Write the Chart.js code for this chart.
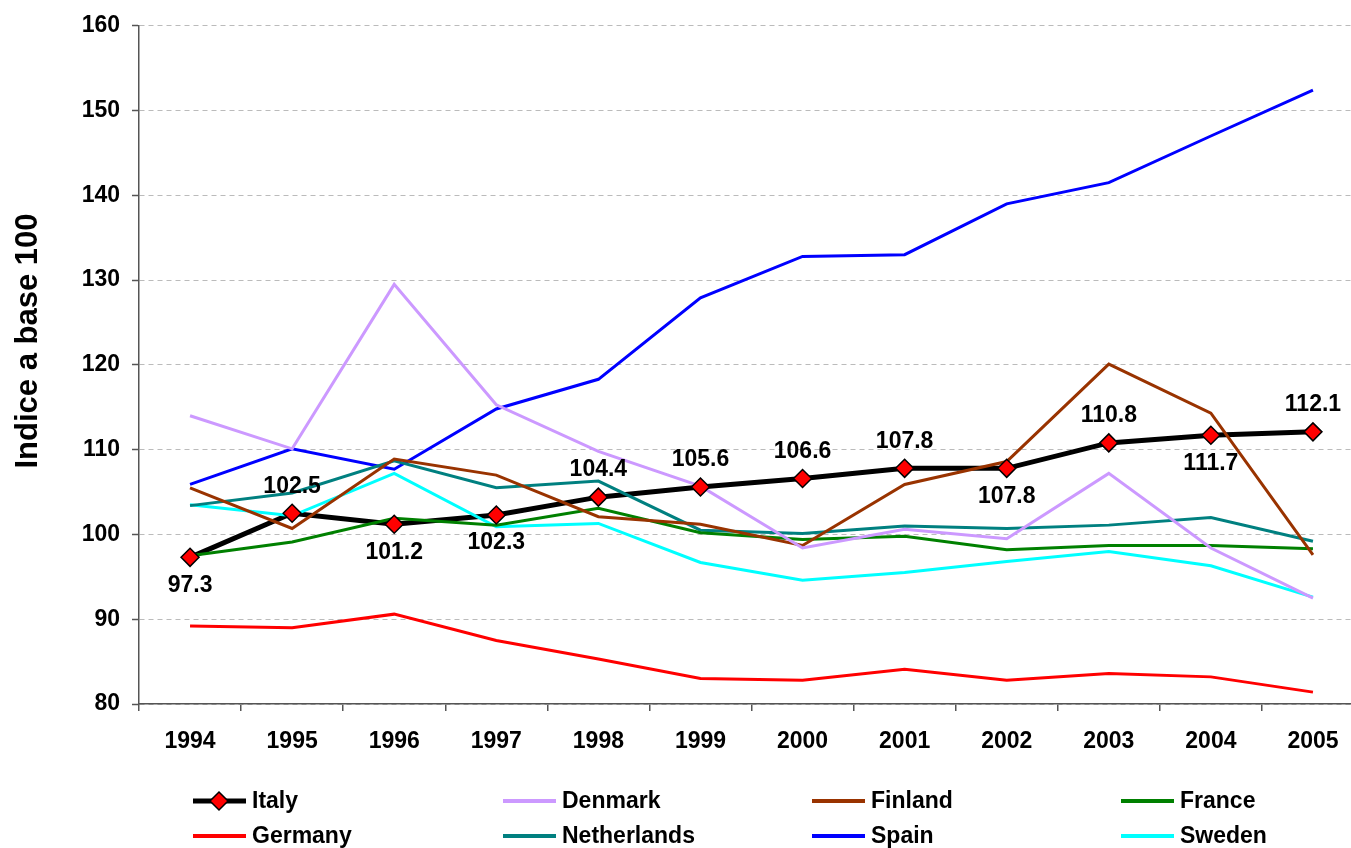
<!DOCTYPE html>
<html><head><meta charset="utf-8">
<script src="https://cdn.jsdelivr.net/npm/chart.js@4.4.1/dist/chart.umd.min.js"></script>
<style>
html,body{margin:0;padding:0;background:#fff;overflow:hidden;width:1351px;height:848px}
#wrap{position:absolute;left:0;top:0;width:1380px;height:848px}
</style>
</head><body>
<div id="wrap"><canvas id="c" width="1380" height="848"></canvas></div>
<script>
const years = ['1994','1995','1996','1997','1998','1999','2000','2001','2002','2003','2004','2005'];
const italy = [97.3,102.5,101.2,102.3,104.4,105.6,106.6,107.8,107.8,110.8,111.7,112.1];
const denmark = [114.0,110.1,129.5,115.3,109.8,105.7,98.4,100.6,99.5,107.2,98.4,92.5];
const finland = [105.5,100.7,108.9,107.0,102.1,101.2,98.7,105.9,108.6,120.1,114.3,97.6];
const france = [97.5,99.1,101.9,101.1,103.1,100.2,99.4,99.8,98.2,98.7,98.7,98.3];
const germany = [89.2,89.0,90.6,87.5,85.3,83.0,82.8,84.1,82.8,83.6,83.2,81.4];
const netherlands = [103.4,104.9,108.7,105.5,106.3,100.5,100.1,101.0,100.7,101.1,102.0,99.2];
const spain = [105.9,110.1,107.7,114.8,118.3,127.9,132.8,133.0,139.0,141.5,147.0,152.4];
const sweden = [103.5,102.2,107.2,100.9,101.3,96.7,94.6,95.5,96.8,98.0,96.3,92.6];
const italyLabelPos = ['below','above','below','below','above','above','above','above','below','above','below','above'];
const yTitle = 'Indice a base 100';

const FONT = '"Liberation Sans", Arial, Helvetica, sans-serif';

function line(label, data, color, width, order) {
  return {label, data, borderColor: color, backgroundColor: color, borderWidth: width,
    pointRadius: 0, pointHoverRadius: 0, tension: 0, fill: false, order};
}

const datasets = [
  line('Italy', italy, '#000000', 5, 10),
  line('Denmark', denmark, '#CC99FF', 3, 5),
  line('Finland', finland, '#993300', 3, 5),
  line('France', france, '#008000', 3, 5),
  line('Germany', germany, '#FF0000', 3, 5),
  line('Netherlands', netherlands, '#008080', 3, 5),
  line('Spain', spain, '#0000FF', 3, 5),
  line('Sweden', sweden, '#00FFFF', 3, 5),
  {label: 'Italy markers', data: italy, showLine: false, pointStyle: 'rectRot', pointRadius: 9,
   pointBackgroundColor: '#FF0000', pointBorderColor: '#000000', pointBorderWidth: 1.5, order: -1}
];

const legendItems = [
  ['Italy', '#000000', 5, true], ['Denmark', '#CC99FF', 4, false], ['Finland', '#993300', 4, false], ['France', '#008000', 4, false],
  ['Germany', '#FF0000', 4, false], ['Netherlands', '#008080', 4, false], ['Spain', '#0000FF', 4, false], ['Sweden', '#00FFFF', 4, false]
];

const extras = {
  id: 'extras',
  afterDatasetsDraw(chart) {
    const ctx = chart.ctx;
    const meta = chart.getDatasetMeta(8);
    ctx.save();
    ctx.font = 'bold 23px ' + FONT;
    ctx.fillStyle = '#000';
    ctx.textAlign = 'center';
    ctx.textBaseline = 'middle';
    meta.data.forEach((pt, i) => {
      const dy = italyLabelPos[i] === 'above' ? -27 : 28;
      ctx.fillText(italy[i].toFixed(1), pt.x, pt.y + dy);
    });
    ctx.restore();
  },
  afterDraw(chart) {
    const ctx = chart.ctx;
    ctx.save();
    // y title
    ctx.translate(28, 341);
    ctx.rotate(-Math.PI / 2);
    ctx.font = 'bold 31px ' + FONT;
    ctx.fillStyle = '#000';
    ctx.textAlign = 'center';
    ctx.textBaseline = 'middle';
    ctx.fillText(yTitle, 0, 0);
    ctx.restore();
    // legend
    const colX = [193, 503, 812, 1121];
    const rowY = [801, 836];
    ctx.save();
    ctx.font = 'bold 23px ' + FONT;
    ctx.textBaseline = 'middle';
    ctx.textAlign = 'left';
    legendItems.forEach((it, k) => {
      const x = colX[k % 4], y = rowY[Math.floor(k / 4)];
      ctx.strokeStyle = it[1];
      ctx.lineWidth = it[2];
      ctx.beginPath(); ctx.moveTo(x, y); ctx.lineTo(x + 53, y); ctx.stroke();
      if (it[3]) {
        const cx = x + 26, r = 9;
        ctx.beginPath();
        ctx.moveTo(cx, y - r); ctx.lineTo(cx + r, y); ctx.lineTo(cx, y + r); ctx.lineTo(cx - r, y); ctx.closePath();
        ctx.fillStyle = '#FF0000'; ctx.fill();
        ctx.lineWidth = 1.5; ctx.strokeStyle = '#000'; ctx.stroke();
      }
      ctx.fillStyle = '#000';
      ctx.fillText(it[0], x + 59, y + 1);
    });
    ctx.restore();
  }
};

Chart.defaults.font.family = FONT;

new Chart(document.getElementById('c'), {
  type: 'line',
  data: {labels: years, datasets},
  options: {
    responsive: false,
    animation: false,
    devicePixelRatio: 1,
    layout: {padding: {top: 22, right: 16, bottom: 0, left: 0}},
    plugins: {legend: {display: false}, tooltip: {enabled: false}},
    scales: {
      x: {
        type: 'category',
        offset: true,
        grid: {offset: true, drawOnChartArea: false, tickLength: 7, color: '#555', tickColor: '#555', lineWidth: 1.5},
        border: {display: true, color: '#555', width: 1.5},
        ticks: {color: '#000', font: {size: 23, weight: 'bold'}, padding: 17, maxRotation: 0, autoSkip: false},
        afterFit(s) { s.height = 144; }
      },
      y: {
        min: 80, max: 160,
        grid: {color: '#BBBBBB', lineWidth: 1, tickLength: 7, tickColor: '#555', tickWidth: 1.5, tickBorderDash: []},
        border: {display: true, color: '#555', width: 1.5, dash: [5, 4]},
        ticks: {stepSize: 10, color: '#000', font: {size: 23, weight: 'bold'}, padding: 12},
        afterFit(s) { s.width = 139; }
      }
    }
  },
  plugins: [extras]
});
</script>
</body></html>
